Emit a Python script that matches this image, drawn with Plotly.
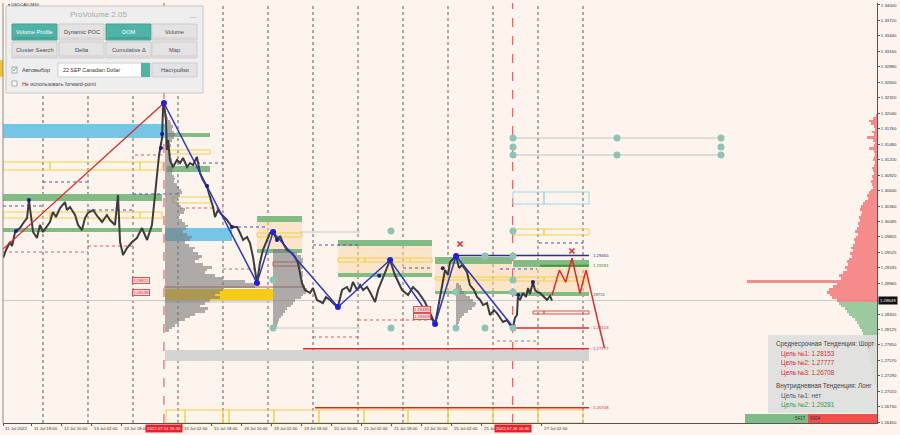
import plotly.graph_objects as go

# ======================= DATA =======================
# time axis: trading hours since 11 Jul 2022 00:00 (weekend removed)
PRICE_H = [2.7, 4.3, 6.4, 7.5, 9.1, 11.7, 13.9, 15.5, 16.5, 17.6, 18.7, 20.8, 22.4, 24.0, 26.1, 27.7,
           29.3, 30.9, 33.1, 35.7, 36.8, 38.4, 41.1, 42.7, 44.8, 46.4, 48.0, 50.7, 53.3, 55.5, 58.1,
           59.7, 62.4, 64.0, 65.1, 66.7, 68.8, 71.5, 74.1, 76.8, 79.5, 82.1, 83.2, 84.8, 85.9, 87.5,
           88.0, 88.5, 89.6, 90.1, 90.7, 91.7, 93.3, 95.5, 97.1, 98.7, 100.8, 102.4, 104.0, 106.1,
           106.7, 107.7, 109.3, 111.5, 113.1, 114.7, 115.7, 117.3, 119.5, 122.1, 124.8, 127.5, 129.1,
           130.7, 132.8, 134.4, 136.0, 138.1, 139.7, 141.3, 143.5, 145.1, 146.7, 148.8, 150.4, 152.0,
           154.1, 156.8, 158.4, 160.0, 162.1, 163.7, 166.4, 168.0, 170.1, 173.3, 174.9, 177.1, 179.2,
           181.3, 183.5, 186.1, 187.7, 189.3, 191.5, 193.1, 194.7, 196.8, 198.4, 201.1, 202.7, 203.7,
           206.4, 209.1, 211.7, 213.9, 215.5, 218.7, 221.3, 224.0, 226.1, 227.7, 230.4, 233.1, 234.7,
           236.8, 238.4, 240.0, 241.1, 244.3, 245.9, 247.5, 250.1, 251.7, 253.9, 255.5, 257.1, 258.7,
           260.8, 262.4, 264.5, 266.1, 267.7, 269.3, 271.5, 273.1, 274.7, 275.7, 276.8, 277.3, 278.4,
           280.0, 281.6, 282.7, 283.7, 285.3, 286.4, 287.5, 289.1, 290.1, 291.7, 292.8, 294.4, 295.5]
PRICE_P = [1.29419, 1.29564, 1.29709, 1.29636, 1.29890, 1.29962, 1.30071, 1.30143, 1.30469, 1.30216,
           1.29890, 1.29781, 1.30017, 1.29890, 1.29981, 1.30071, 1.30252, 1.30162, 1.30324, 1.30433,
           1.30288, 1.30343, 1.30198, 1.30017, 1.29926, 1.30143, 1.30234, 1.30288, 1.30162, 1.30071,
           1.30198, 1.30107, 1.30017, 1.30560, 1.29709, 1.29474, 1.29600, 1.29709, 1.29781, 1.29962,
           1.29745, 1.30017, 1.30379, 1.30868, 1.31284, 1.31592, 1.32135, 1.32226, 1.31918, 1.31375,
           1.31556, 1.31194, 1.31067, 1.31194, 1.31139, 1.31230, 1.31067, 1.31139, 1.31103, 1.31248,
           1.31157, 1.30958, 1.30831, 1.30705, 1.30524, 1.30343, 1.30162, 1.30288, 1.30198, 1.30107,
           1.29981, 1.29981, 1.29872, 1.29745, 1.29800, 1.29691, 1.29437, 1.28967, 1.29329, 1.29564,
           1.29745, 1.29872, 1.29890, 1.29745, 1.29818, 1.29691, 1.29564, 1.29510, 1.29437, 1.29329,
           1.28967, 1.28840, 1.28786, 1.28876, 1.28659, 1.28604, 1.28713, 1.28659, 1.28586, 1.28532,
           1.28840, 1.28894, 1.28804, 1.28985, 1.28840, 1.28930, 1.28840, 1.28894, 1.28804, 1.28623,
           1.28840, 1.28930, 1.29166, 1.29383, 1.29111, 1.28967, 1.28840, 1.28749, 1.28894, 1.28804,
           1.28713, 1.28623, 1.28423, 1.28224, 1.28514, 1.28930, 1.29202, 1.29111, 1.29347, 1.29455,
           1.29238, 1.29292, 1.29166, 1.28930, 1.28840, 1.28713, 1.28659, 1.28568, 1.28604, 1.28387,
           1.28478, 1.28423, 1.28333, 1.28261, 1.28297, 1.28206, 1.28170, 1.28333, 1.28387, 1.28713,
           1.28659, 1.28786, 1.28713, 1.28876, 1.28768, 1.28985, 1.28840, 1.28804, 1.28786, 1.28749,
           1.28695, 1.28659, 1.28731, 1.28649]
CURRENT_PRICE = 1.28649

ZZ_H = [88.5, 138.1, 146.7, 181.3, 209.1, 233.1, 244.3, 274.7]
ZZ_P = [1.32226, 1.28967, 1.29890, 1.28532, 1.29383, 1.28224, 1.29455, 1.28170]
TREND_H = [2.67, 88.5]
TREND_P = [1.29582, 1.32226]
PROJ_H = [295.5, 299.4, 302.8, 306.1, 310.4, 313.6, 320.2, 323.4]
PROJ_P = [1.28749, 1.29200, 1.28980, 1.29414, 1.28780, 1.29200, 1.28237, 1.27795]
FRACT_H = [9.6, 16.5, 86.9, 87.5, 111.5, 124.8, 148.8, 203.3, 237.2, 277.5, 285.3]
FRACT_P = [1.29908, 1.30469, 1.31411, 1.31664, 1.30723, 1.29981, 1.29745, 1.29100, 1.29233, 1.28749, 1.28985]

TEAL_H = [209.6, 274.67, 259.73, 274.67, 274.67, 244.27, 274.67, 209.6, 244.27, 259.73, 274.67,
          146.67, 146.67, 274.67, 330.13, 385.6, 274.67, 385.6, 274.67, 330.13, 385.6]
TEAL_P = [1.29908, 1.29908, 1.29455, 1.29455, 1.29021, 1.28804, 1.28804, 1.28152, 1.28152, 1.28152, 1.28152,
          1.29021, 1.28152, 1.31592, 1.31592, 1.31592, 1.31429, 1.31429, 1.31284, 1.31284, 1.31284]
XMARK_H = [246.4, 306.1]
XMARK_P = [1.29673, 1.29546]
OMARK_H = [253.9, 313.1]
OMARK_P = [1.29329, 1.29238]

# zones: (start h, end h, top price, bottom price)
GREEN_ZONES = [(2.67, 87.5, 1.30578, 1.30451), (2.67, 87.5, 1.29962, 1.29890),
               (89.07, 113.07, 1.31682, 1.31609), (90.0, 113.07, 1.31085, 1.30976),
               (138.13, 162.13, 1.30180, 1.30071), (138.13, 162.13, 1.29582, 1.29510),
               (181.33, 231.47, 1.29745, 1.29636), (181.33, 231.47, 1.29148, 1.29075),
               (233.07, 274.13, 1.29437, 1.29311), (233.07, 274.13, 1.28822, 1.28768),
               (274.67, 315.2, 1.29383, 1.29256), (274.67, 315.2, 1.28804, 1.28732)]
SKY_ZONES = [(2.67, 89.07, 1.31845, 1.31592), (89.07, 124.8, 1.29962, 1.29727)]
ORANGE_ZONES = [(138.13, 162.13, 1.30071, 1.29528), (181.33, 231.47, 1.29636, 1.29111),
                (233.07, 274.13, 1.29311, 1.28804), (274.67, 315.2, 1.29256, 1.28786)]
YELLOW_BOXES = [(2.67, 27.73, 1.31157, 1.31012), (27.73, 75.73, 1.31157, 1.31012), (75.73, 87.47, 1.31157, 1.31012),
                (2.67, 27.73, 1.30252, 1.30143), (27.73, 75.73, 1.30252, 1.30143), (75.73, 87.47, 1.30252, 1.30143),
                (91.73, 113.07, 1.31375, 1.31302), (93.33, 113.07, 1.30524, 1.30415),
                (138.13, 162.13, 1.29872, 1.29800),
                (181.33, 195.73, 1.29419, 1.29347), (195.73, 219.73, 1.29419, 1.29347), (219.73, 231.47, 1.29419, 1.29347),
                (233.07, 274.13, 1.29075, 1.29021),
                (274.67, 291.2, 1.29075, 1.29003), (291.2, 315.2, 1.29075, 1.29003),
                (274.67, 291.2, 1.29944, 1.29836), (291.2, 315.2, 1.29944, 1.29836)]
BOTTOM_BOX_EDGES = [89.6, 99.73, 120.0, 123.2, 147.2, 171.2, 195.2, 218.67, 240.0, 264.0, 288.0, 312.0]
BOTTOM_BOX_TOP = 1.26668
SKY_BOXES = [(274.67, 291.2, 1.30614, 1.30397), (291.2, 315.2, 1.30614, 1.30397)]
RED_BOXES = [(285.33, 291.2, 1.28460, 1.28406), (291.2, 315.2, 1.28460, 1.28406), (146.67, 161.07, 1.29347, 1.29274)]
GOLD_ZONE = (89.07, 146.67, 1.28858, 1.28641)
GRAY_ZONE = (89.07, 315.2, 1.27754, 1.27555)

# lines: (start h, end h, price)
NAVY_LINE = (244.27, 315.2, 1.29465)
GREEN_LINE = (289.07, 315.2, 1.29281)
RED_LEVELS = [(274.67, 315.2, 1.28153), (162.67, 315.2, 1.27777), (169.07, 315.2, 1.26708)]
RED_THIN = [(88.5, 162.67, 1.28894)]
GRAY_THIN = [(88.5, 146.67, 1.28623), (161.07, 193.07, 1.29890), (146.67, 193.07, 1.28152),
             (274.67, 385.6, 1.31592), (274.67, 385.6, 1.31284)]
BLUE_DOTTED = [(24, 47.47, 1.30795), (2.67, 24, 1.30361), (47.47, 72, 1.30288), (72, 97, 1.30578),
               (106.13, 120, 1.31139), (124.8, 144, 1.29981), (168, 193.07, 1.29655),
               (216, 231.47, 1.29238), (267.73, 287.47, 1.29220), (288.53, 312, 1.29691)]
RED_DOTTED = [(2.67, 48, 1.29528), (48, 72, 1.29636), (73.07, 88, 1.31284), (97.07, 120, 1.30324),
              (120, 139.73, 1.29220), (168, 193.07, 1.27989), (192, 230.4, 1.28297), (266.13, 287.47, 1.27916)]
LEVEL_LABELS = [("1.29465", 1.29465, "#2B2F8F"), ("1.29281", 1.29281, "#2E8B3A"), ("28751", 1.28751, "#555555"),
                ("1.28153", 1.28153, "#E0282B"), ("1.27777", 1.27777, "#E0282B"), ("1.26708", 1.26708, "#E0282B")]
PRICE_TAGS = [("1.28821", 76.1, 1.29012), ("1.28538", 76.1, 1.28795), ("1.28495", 225.9, 1.28495), ("1.28369", 225.9, 1.28369)]

DAY_LINES = [24, 48, 72, 96, 120, 144, 168, 192, 216, 240, 264, 288, 312]
EVENT_H = [88.5, 274.5]
EVENT_TEXT = ["2022.07.14 16:30", "2022.07.26 10:30"]

# volume profiles (price bins step 0.0005, volumes)
PROF_STEP = 0.0005
PROF1_ANCHOR, PROF1_TOP = 89.07, 1.3200
PROF1_VOL = [2, 3, 5, 6, 8, 7, 9, 10, 9, 7, 5, 6, 5, 4, 6, 5, 7, 6, 8, 9, 8, 7, 9, 10, 9, 12, 14, 16, 17, 15,
             13, 12, 14, 16, 20, 19, 15, 13, 17, 20, 23, 21, 18, 22, 27, 25, 20, 24, 30, 28, 33, 37, 34, 30,
             38, 47, 42, 40, 50, 58, 80, 95, 90, 58, 55, 50, 55, 45, 40, 35, 43, 40, 30, 25, 20, 14, 10, 7, 4]
PROF2_ANCHOR, PROF2_TOP = 146.67, 1.2955
PROF2_VOL = [18, 24, 28, 30, 30, 29, 30, 28, 30, 30, 29, 30, 30, 32, 34, 33, 30, 28, 22, 20, 18, 14, 12, 10, 8, 6, 5, 4, 3]
PROF3_ANCHOR, PROF3_TOP = 244.27, 1.2895
PROF3_VOL = [3, 5, 6, 8, 10, 14, 17, 20, 19, 16, 12, 8, 6, 4, 3, 2]
MP_TOP = 1.3200
MP_VOL = [1, 4, 8, 6, 3, 2, 5, 3, 10, 4, 2, 3, 8, 3, 2, 3, 4, 2, 3, 5, 4, 3, 5, 4, 6, 5, 4, 6, 8, 10,
          9, 12, 14, 16, 17, 15, 16, 18, 17, 19, 18, 20, 22, 19, 21, 23, 22, 24, 26, 24, 27, 25, 28, 30,
          29, 32, 30, 34, 38, 36, 130, 40, 44, 48, 50, 47, 45,
          40, 38, 36, 32, 30, 28, 25, 22, 20, 18, 17, 15, 14, 13, 12, 14, 12, 10, 10, 8, 9, 8, 6, 7, 5,
          4, 4, 3, 3, 2, 2, 1]
BUY_SELL = [5417, 6004]

TIME_TICK_H = [2.67, 18, 34, 50, 66, 98, 114, 130, 146, 162, 178, 194, 210, 226, 242, 258, 290]
TIME_TICK_TEXT = ["11 Jul 2022", "11 Jul 18:00", "12 Jul 10:00", "13 Jul 02:00", "13 Jul 18:00",
                  "15 Jul 02:00", "15 Jul 18:00", "18 Jul 10:00", "19 Jul 02:00", "19 Jul 18:00",
                  "20 Jul 10:00", "21 Jul 02:00", "21 Jul 18:00", "22 Jul 10:00", "25 Jul 02:00",
                  "25 Jul 18:00", "27 Jul 02:00"]
PRICE_TICKS = [1.34000, 1.33720, 1.33440, 1.33160, 1.32880, 1.32600, 1.32320, 1.32040, 1.31760, 1.31480,
               1.31200, 1.30920, 1.30640, 1.30360, 1.30085, 1.29805, 1.29525, 1.29245, 1.28965, 1.28405,
               1.28125, 1.27850, 1.27570, 1.27290, 1.27010, 1.26730, 1.26450]

# ======================= STYLE / LAYOUT =======================
W, H = 900, 435
ML, MR, MT, MB = 3, 23, 3, 12
PW, PH = W - ML - MR, H - MT - MB
X_MIN, X_MAX = 2.67, 468.8
Y_MIN, Y_MAX = 1.26432, 1.34036
VOL_SCALE = 1 / 1.875          # profile volume units -> hours
SPLIT_WIDTH = 70.4              # hours used by buy/sell strip
FONT = "Liberation Sans"
BG = "#FDF4EE"
RED = "#E0282B"


def px(x):
    return (x - ML) / PW


def py(y):
    return (H - MB - y) / PH


shapes = []
ann = []


def drect(h0, h1, p0, p1, fill=None, line=None, lw=1.0, layer="below"):
    shapes.append(dict(type="rect", xref="x", yref="y", x0=h0, x1=h1, y0=p0, y1=p1, layer=layer,
                       fillcolor=fill if fill else "rgba(0,0,0,0)",
                       line=dict(color=line if line else "rgba(0,0,0,0)", width=lw if line else 0)))


def dline(h0, h1, p, color, lw=1.0, dash="solid", layer="below"):
    shapes.append(dict(type="line", xref="x", yref="y", x0=h0, x1=h1, y0=p, y1=p, layer=layer,
                       line=dict(color=color, width=lw, dash=dash)))


def prect(x0, y0, x1, y1, fill, line=None, lw=1.0):
    shapes.append(dict(type="rect", xref="paper", yref="paper", x0=px(x0), x1=px(x1), y0=py(y1), y1=py(y0),
                       layer="above", fillcolor=fill,
                       line=dict(color=line if line else "rgba(0,0,0,0)", width=lw if line else 0)))


def ptext(x, y, s, size, color, xanchor="left", family=FONT):
    ann.append(dict(x=px(x), y=py(y), xref="paper", yref="paper", text=s, showarrow=False,
                    xanchor=xanchor, yanchor="middle", font=dict(size=size, color=color, family=family)))


# zones
for z in SKY_ZONES:
    drect(*z, fill="#74C5E6")
for z in ORANGE_ZONES:
    drect(*z, fill="rgba(250,212,160,0.5)")
for z in GREEN_ZONES:
    drect(*z, fill="#82BC84")
drect(*GOLD_ZONE, fill="#F7CB17")
drect(*GRAY_ZONE, fill="#D4D4D4")
for z in YELLOW_BOXES:
    drect(*z, line="#F0D04A", lw=1)
for a, b in zip(BOTTOM_BOX_EDGES[:-1], BOTTOM_BOX_EDGES[1:]):
    drect(a, b, BOTTOM_BOX_TOP, Y_MIN, line="#F0D04A", lw=1)
for z in SKY_BOXES:
    drect(*z, line="#9ED3E6", lw=1)
for z in RED_BOXES:
    drect(*z, line="#E05050", lw=1)

# vertical separators
for d in DAY_LINES:
    shapes.append(dict(type="line", xref="x", yref="paper", x0=d, x1=d, y0=0, y1=1, layer="below",
                       line=dict(color="#5A5A5A", width=1, dash="dot")))
for e in EVENT_H:
    shapes.append(dict(type="line", xref="x", yref="paper", x0=e, x1=e, y0=0, y1=1, layer="below",
                       line=dict(color="#E8474A", width=1, dash="dash")))

# horizontal lines
dline(X_MIN, X_MAX, CURRENT_PRICE, "#C8C8C8", 1)
for l in GRAY_THIN:
    dline(*l, color="#C2C2C2", lw=1)
for l in BLUE_DOTTED:
    dline(*l, color="#4A4ACF", lw=1, dash="dot")
for l in RED_DOTTED:
    dline(*l, color="#E05A5A", lw=1, dash="dot")
for l in RED_THIN:
    dline(*l, color="#C0504D", lw=1)
dline(*NAVY_LINE, color="#2B2F8F", lw=1.5)
dline(*GREEN_LINE, color="#3E9A3E", lw=2)
for l in RED_LEVELS:
    dline(*l, color=RED, lw=1.5)

fig = go.Figure()


def profile(anchor, top, vols, right=False):
    prices = [round(top - i * PROF_STEP, 5) for i in range(len(vols))]
    lens = [v * VOL_SCALE for v in vols]
    base = [anchor - L for L in lens] if right else [anchor] * len(lens)
    return prices, lens, base


for anc, top, vol in [(PROF1_ANCHOR, PROF1_TOP, PROF1_VOL), (PROF2_ANCHOR, PROF2_TOP, PROF2_VOL),
                      (PROF3_ANCHOR, PROF3_TOP, PROF3_VOL)]:
    pr, ln, bs = profile(anc, top, vol)
    fig.add_trace(go.Bar(y=pr, x=ln, base=bs, orientation="h", width=PROF_STEP,
                         marker=dict(color="rgba(120,120,120,0.6)", line=dict(width=0)), hoverinfo="skip"))

pr, ln, bs = profile(X_MAX, MP_TOP, MP_VOL, right=True)
cols = ["rgba(242,105,105,0.75)" if p > CURRENT_PRICE else "rgba(120,188,130,0.75)" for p in pr]
fig.add_trace(go.Bar(y=pr, x=ln, base=bs, orientation="h", width=PROF_STEP,
                     marker=dict(color=cols, line=dict(width=0)), hoverinfo="skip"))

# price, trend lines, zigzag
fig.add_trace(go.Scatter(x=PRICE_H, y=PRICE_P, mode="lines", line=dict(color="#3C3C3C", width=2.0), hoverinfo="skip"))
fig.add_trace(go.Scatter(x=TREND_H, y=TREND_P, mode="lines", line=dict(color=RED, width=1.3), hoverinfo="skip"))
fig.add_trace(go.Scatter(x=ZZ_H, y=ZZ_P, mode="lines+markers", line=dict(color="#2A36C8", width=1.5),
                         marker=dict(color="#1F1FE0", size=6), hoverinfo="skip"))
fig.add_trace(go.Scatter(x=PROJ_H, y=PROJ_P, mode="lines", line=dict(color=RED, width=1.5), hoverinfo="skip"))
fig.add_trace(go.Scatter(x=FRACT_H, y=FRACT_P, mode="markers", marker=dict(color="#1A1A8C", size=4), hoverinfo="skip"))
fig.add_trace(go.Scatter(x=TEAL_H, y=TEAL_P, mode="markers", marker=dict(color="#8EC3B6", size=7), hoverinfo="skip"))
fig.add_trace(go.Scatter(x=XMARK_H, y=XMARK_P, mode="markers", marker=dict(color=RED, size=5, symbol="x-thin",
                         line=dict(color=RED, width=1.5)), hoverinfo="skip"))
fig.add_trace(go.Scatter(x=OMARK_H, y=OMARK_P, mode="markers", marker=dict(color="rgba(0,0,0,0)", size=5, symbol="circle-open",
                         line=dict(color="#E06060", width=1)), hoverinfo="skip"))

# level labels right of zones
for t, p, c in LEVEL_LABELS:
    ann.append(dict(x=316.0, y=p, xref="x", yref="y", text=t, showarrow=False, xanchor="left", yanchor="middle",
                    font=dict(size=4.3, color=c, family=FONT)))
for t, h, p in PRICE_TAGS:
    ann.append(dict(x=h, y=p, xref="x", yref="y", text=t, showarrow=False, xanchor="center", yanchor="middle",
                    bgcolor="rgba(255,220,220,0.9)", bordercolor="#E05050", borderwidth=1, borderpad=0,
                    font=dict(size=4.3, color=RED, family=FONT)))

# buy / sell strip
S = SPLIT_WIDTH / sum(BUY_SELL)
x_split = X_MAX - BUY_SELL[1] * S
drect(X_MAX - sum(BUY_SELL) * S, x_split, Y_MIN, 1.26595, fill="#7DBB87", layer="above")
drect(x_split, X_MAX, Y_MIN, 1.26595, fill="#F0504A", layer="above")
ann.append(dict(x=x_split, y=1.26513, xref="x", yref="y", text=str(BUY_SELL[0]), showarrow=False, xanchor="right",
                yanchor="middle", font=dict(size=4.5, color="#333", family=FONT)))
ann.append(dict(x=x_split, y=1.26513, xref="x", yref="y", text=str(BUY_SELL[1]), showarrow=False, xanchor="left",
                yanchor="middle", font=dict(size=4.5, color="#333", family=FONT)))

# info box (bottom right)
prect(768, 335, 877, 413, "rgba(222,222,222,0.92)")
ptext(774, 344, "Среднесрочная Тенденция: Шорт", 6.3, "#444")
ptext(779, 353.5, "Цель №1: 1.28153", 6.3, "#E0282B")
ptext(779, 363, "Цель №2: 1.27777", 6.3, "#E0282B")
ptext(779, 372.5, "Цель №3: 1.26708", 6.3, "#E0282B")
ptext(774, 386, "Внутридневная Тенденция: Лонг", 6.3, "#444")
ptext(779, 395.5, "Цель №1: нет", 6.3, "#555")
ptext(779, 405, "Цель №2: 1.29281", 6.3, "#2E9E3E")

# ProVolume panel
prect(6, 6, 203, 93, "#EEEEEE", "#C4C4C4")
ptext(98, 14.5, "ProVolume 2.05", 8, "#A8A8A8", "center")
ptext(193, 17, "—", 6, "#999", "center")
buttons = [("Volume Profile", 12, 24, True), ("Dynamic POC", 59, 24, False), ("DOM", 106, 24, True),
           ("Volume", 152, 24, False), ("Cluster Search", 12, 42, False), ("Delta", 59, 42, False),
           ("Cumulative Δ", 106, 42, False), ("Map", 152, 42, False)]
for name, bx, by, on in buttons:
    prect(bx, by, bx + 45, by + 16, "#4FB3A5" if on else "#E3E3E3", "#45A293" if on else "#CBCBCB")
    ptext(bx + 22.5, by + 8, name, 5.7, "#FFFFFF" if on else "#4A4A4A", "center")
    prect(bx + 2, by + 13.5, bx + 43, by + 14.5, "#3E9487" if on else "#DCC8C8")
prect(12, 67, 17, 73, "#FFFFFF", "#AAAAAA")
ptext(14.5, 69.5, "✓", 7, "#3FA595", "center", "DejaVu Sans")
ptext(19.5, 70, "Автовыбор", 5.5, "#444")
prect(58, 63, 150, 77, "#FFFFFF", "#CFCFCF")
prect(141, 63, 150, 77, "#4FB3A5")
ptext(61, 70, "22 SEP Canadian Dollar", 5.3, "#333")
prect(152, 63, 197, 77, "#E3E3E3", "#CBCBCB")
ptext(174.5, 70, "Настройки", 5.7, "#4A4A4A", "center")
prect(12, 81, 17, 86, "#FFFFFF", "#AAAAAA")
ptext(19.5, 83.5, "Не использовать forward-point", 5.3, "#444")
ptext(6, 4.5, "▾ USDCAD,M30", 4.3, "#333")
shapes.append(dict(type="rect", xref="paper", yref="paper", x0=px(0), x1=px(3), y0=py(77), y1=py(60),
                   fillcolor="#F2C522", line=dict(width=0), layer="above"))
shapes.append(dict(type="line", xref="paper", yref="paper", x0=0, x1=0, y0=0, y1=1, layer="above",
                   line=dict(color="#8A8A8A", width=1)))

# time labels (left-aligned at tick, MT4 style)
for h, t in zip(TIME_TICK_H, TIME_TICK_TEXT):
    ann.append(dict(x=h, y=0, xref="x", yref="paper", text=t, showarrow=False, xanchor="left", yanchor="top",
                    yshift=-1, font=dict(size=4.3, color="#333", family=FONT)))
for h, t in zip(EVENT_H, EVENT_TEXT):
    ann.append(dict(x=h, y=0, xref="x", yref="paper", text=t, showarrow=False, xanchor="center", yanchor="top",
                    yshift=-1, bgcolor="#E8202A", borderpad=1, font=dict(size=4.3, color="#FFFFFF", family=FONT)))
# current price tag
ann.append(dict(x=1, y=CURRENT_PRICE, xref="paper", yref="y", text=f"{CURRENT_PRICE:.5f}", showarrow=False,
                xanchor="left", yanchor="middle", xshift=1, bgcolor="#111111", borderpad=1,
                font=dict(size=4.3, color="#FFFFFF", family=FONT)))

fig.update_layout(
    width=W, height=H, margin=dict(l=ML, r=MR, t=MT, b=MB, autoexpand=False),
    paper_bgcolor=BG, plot_bgcolor=BG, showlegend=False, barmode="overlay", bargap=0,
    shapes=shapes, annotations=ann, hovermode=False,
    xaxis=dict(range=[X_MIN, X_MAX], showgrid=False, zeroline=False, showline=True, linecolor="#555",
               linewidth=1, tickvals=TIME_TICK_H, ticks="outside", ticklen=2, tickcolor="#555",
               showticklabels=False, fixedrange=True, automargin=False),
    yaxis=dict(range=[Y_MIN, Y_MAX], side="right", showgrid=False, zeroline=False, showline=True,
               linecolor="#555", linewidth=1, tickvals=PRICE_TICKS, ticktext=[f"{v:.5f}" for v in PRICE_TICKS],
               ticks="outside", ticklen=2, tickcolor="#555", tickfont=dict(size=4.3, color="#333", family=FONT),
               fixedrange=True, automargin=False),
)

fig.write_html("out.html", config={"displayModeBar": False, "staticPlot": True},
               post_script="document.body.style.margin='0';document.body.style.padding='0';")
